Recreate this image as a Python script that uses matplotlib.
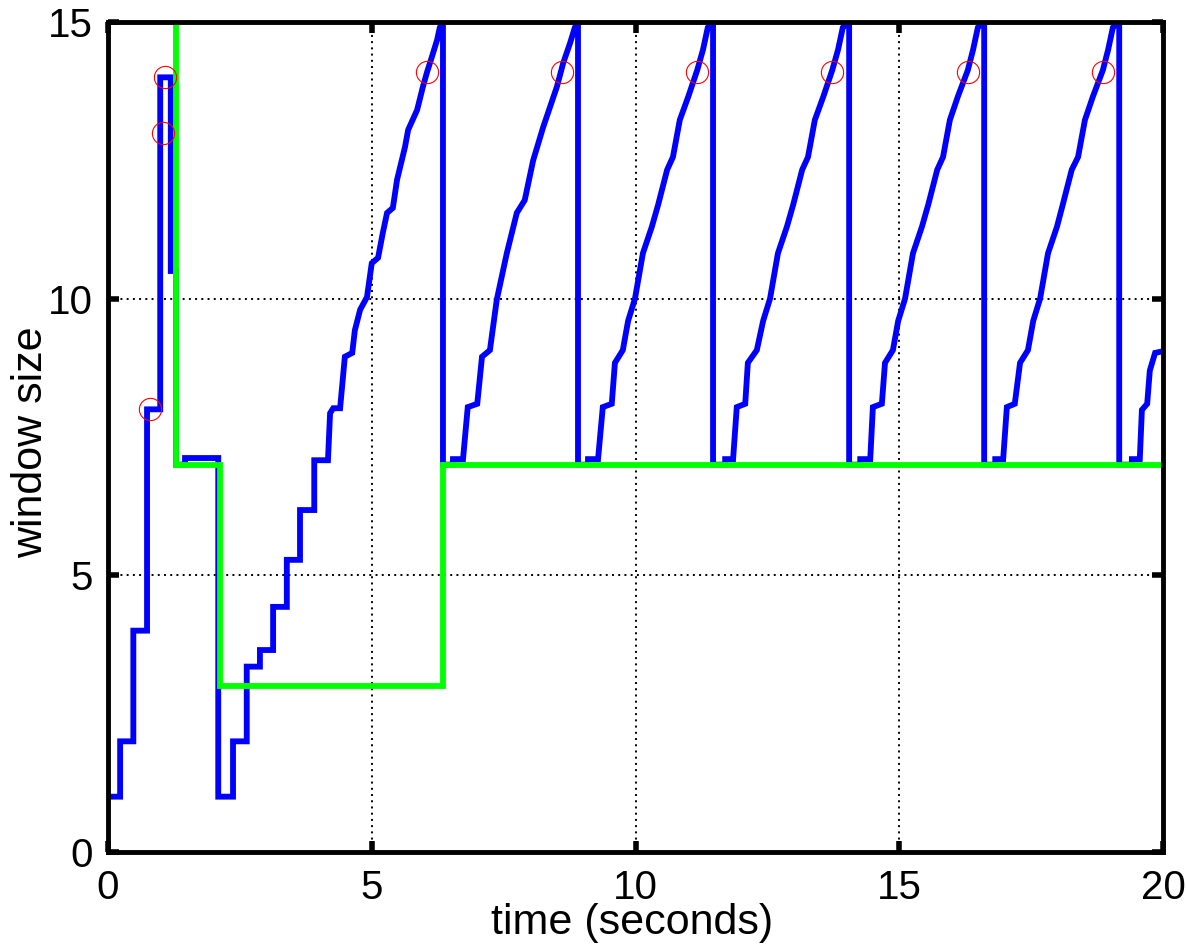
import matplotlib
matplotlib.use("Agg")
import matplotlib.pyplot as plt
import numpy as np

plt.rcParams["font.family"] = ["Liberation Sans", "DejaVu Sans"]

# congestion window (packets) vs time (s)
# slow start, timeout and the slow restart
start_t = [0.0, 0.23, 0.23, 0.48, 0.48, 0.74, 0.74, 0.99, 0.99, 1.19, 1.19, 1.29,
           1.29, 1.46, 1.46, 2.09, 2.09, 2.37, 2.37, 2.63, 2.63, 2.88, 2.88, 3.13,
           3.13, 3.39, 3.39, 3.64, 3.64, 3.91, 3.91, 4.17]
start_w = [1, 1, 2, 2, 4, 4, 8, 8, 14, 14, 10.5, 10.5,
           7.0, 7.0, 7.12, 7.12, 1, 1, 2, 2, 3.35, 3.35, 3.65, 3.65,
           4.43, 4.43, 5.28, 5.28, 6.18, 6.18, 7.08, 7.08]

# first congestion avoidance ramp
ramp_t = [4.17, 4.21, 4.27, 4.40, 4.49, 4.63, 4.68, 4.78, 4.91, 5.00, 5.12, 5.21,
          5.29, 5.40, 5.48, 5.63, 5.69, 5.86, 5.97, 6.05, 6.14, 6.24, 6.29, 6.35]
ramp_w = [7.08, 7.93, 8.02, 8.02, 8.95, 9.02, 9.43, 9.8, 10.03, 10.64, 10.74, 11.19,
          11.55, 11.64, 12.15, 12.74, 13.05, 13.41, 13.83, 14.1, 14.37, 14.68, 14.9, 15.0]

# fast retransmit / fast recovery cycles
cyc1_t = [6.35, 6.35, 6.54, 6.54, 6.73, 6.82, 7.00, 7.09, 7.24, 7.37, 7.56, 7.75,
          7.90, 8.06, 8.25, 8.51, 8.63, 8.76, 8.85, 8.91]
cyc1_w = [15.0, 7.0, 7.0, 7.1, 7.1, 8.04, 8.1, 8.95, 9.07, 9.98, 10.82, 11.55,
          11.78, 12.5, 13.1, 13.83, 14.26, 14.62, 14.9, 15.0]

cyc2_t = [8.91, 8.91, 9.10, 9.10, 9.29, 9.38, 9.55, 9.61, 9.76, 9.86, 9.99, 10.14,
          10.31, 10.43, 10.60, 10.71, 10.84, 11.00, 11.17, 11.28, 11.37, 11.47]
cyc2_w = [15.0, 7.0, 7.0, 7.1, 7.1, 8.04, 8.1, 8.84, 9.07, 9.6, 10.0, 10.82,
          11.3, 11.7, 12.33, 12.56, 13.23, 13.65, 14.13, 14.5, 14.9, 15.0]

cyc3_t = [11.47, 11.47, 11.70, 11.70, 11.85, 11.92, 12.08, 12.13, 12.30, 12.42, 12.55, 12.70,
          12.87, 12.99, 13.16, 13.27, 13.40, 13.56, 13.73, 13.84, 13.93, 14.05]
cyc3_w = [15.0, 7.0, 7.0, 7.1, 7.1, 8.04, 8.1, 8.84, 9.07, 9.6, 10.0, 10.82,
          11.3, 11.7, 12.33, 12.56, 13.23, 13.65, 14.13, 14.5, 14.9, 15.0]

cyc4_t = [14.05, 14.05, 14.26, 14.26, 14.45, 14.50, 14.67, 14.73, 14.88, 14.98, 15.11, 15.26,
          15.43, 15.55, 15.72, 15.83, 15.96, 16.11, 16.30, 16.40, 16.49, 16.61]
cyc4_w = [15.0, 7.0, 7.0, 7.1, 7.1, 8.04, 8.1, 8.84, 9.07, 9.6, 10.0, 10.82,
          11.3, 11.7, 12.33, 12.56, 13.23, 13.65, 14.13, 14.5, 14.9, 15.0]

cyc5_t = [16.61, 16.61, 16.82, 16.82, 16.97, 17.04, 17.19, 17.29, 17.44, 17.54, 17.67, 17.82,
          17.99, 18.10, 18.27, 18.39, 18.52, 18.67, 18.86, 18.96, 19.05, 19.17]
cyc5_w = [15.0, 7.0, 7.0, 7.1, 7.1, 8.04, 8.1, 8.84, 9.07, 9.6, 10.0, 10.82,
          11.3, 11.7, 12.33, 12.56, 13.23, 13.65, 14.13, 14.5, 14.9, 15.0]

cyc6_t = [19.17, 19.17, 19.41, 19.41, 19.56, 19.60, 19.70, 19.75, 19.85, 20.0]
cyc6_w = [15.0, 7.0, 7.0, 7.1, 7.1, 7.99, 8.1, 8.7, 9.02, 9.05]

# slow start threshold (initial value is off the scale)
ssth_t = [0.0, 1.29, 1.29, 2.12, 2.12, 6.35, 6.35, 20.0]
ssth_w = [64, 64, 7, 7, 3, 3, 7, 7]

# loss events
loss_t = [0.80, 1.04, 1.08, 6.05, 8.61, 11.17, 13.73, 16.30, 18.86]
loss_w = [8.0, 13.0, 14.0, 14.1, 14.1, 14.1, 14.1, 14.1, 14.1]

xticks = [0, 5, 10, 15, 20]
yticks = [0, 5, 10, 15]

cwnd_t = np.concatenate([start_t, ramp_t, cyc1_t, cyc2_t, cyc3_t, cyc4_t, cyc5_t, cyc6_t])
cwnd_w = np.concatenate([start_w, ramp_w, cyc1_w, cyc2_w, cyc3_w, cyc4_w, cyc5_w, cyc6_w])

W, H = 1186, 950
fig = plt.figure(figsize=(W / 100, H / 100), dpi=100)
ax = fig.add_axes([108 / W, 1 - 852 / H, (1163 - 108) / W, (852 - 22) / H])

ax.plot(cwnd_t, cwnd_w, color=(0, 0, 1), lw=4.2, solid_joinstyle="miter", zorder=2)
ax.plot(ssth_t, ssth_w, color=(0, 1, 0), lw=4.2, solid_joinstyle="miter", zorder=3)
ax.plot(loss_t, loss_w, "o", mfc="none", mec=(1, 0, 0), ms=16, mew=0.8, zorder=4)

ax.set_xlim(0, 20)
ax.set_ylim(0, 15)
ax.set_xticks(xticks)
ax.set_yticks(yticks)

ax.set_axisbelow(True)
ax.grid(True, color="k", ls=(0, (1.0, 2.2)), lw=1.4)

for sp in ax.spines.values():
    sp.set_linewidth(3.5)
    sp.set_color("k")
    sp.set_zorder(5)

ax.tick_params(direction="in", length=8, width=4, top=True, right=True,
               labelsize=29, colors="k")
ax.tick_params(axis="x", pad=12)
ax.tick_params(axis="y", pad=11)

ax.set_xlabel("time (seconds)", fontsize=31)
ax.set_ylabel("window size", fontsize=31)
ax.xaxis.set_label_coords(0.497, -0.062)
ax.yaxis.set_label_coords(-0.054, 0.494)

fig.savefig("out.png", dpi=100)
